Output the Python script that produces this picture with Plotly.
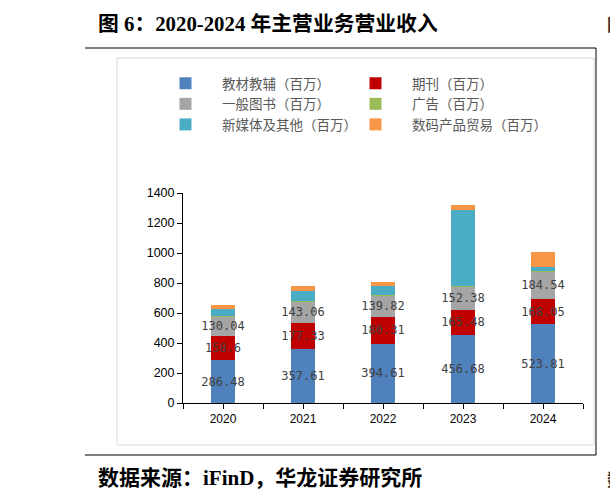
import plotly.graph_objects as go

years = ["2020", "2021", "2022", "2023", "2024"]
series_names = ["教材教辅（百万）", "期刊（百万）", "一般图书（百万）", "广告（百万）",
                "新媒体及其他（百万）", "数码产品贸易（百万）"]
teaching = [286.48, 357.61, 394.61, 456.68, 523.81]
periodicals = [158.6, 177.33, 180.31, 165.48, 168.05]
general_books = [130.04, 143.06, 139.82, 152.38, 184.54]
advertising = [5, 5, 7, 6, 2]
new_media = [44, 65, 60, 507, 25]
digital_trade = [29, 31, 22, 31, 105]
labels_teaching = ["286.48", "357.61", "394.61", "456.68", "523.81"]
labels_periodicals = ["158.6", "177.33", "180.31", "165.48", "168.05"]
labels_general = ["130.04", "143.06", "139.82", "152.38", "184.54"]
y_ticks = [0, 200, 400, 600, 800, 1000, 1200, 1400]

colors = ["#4F81BD", "#C00000", "#A5A5A5", "#9BBB59", "#4BACC6", "#F79646"]
values = [teaching, periodicals, general_books, advertising, new_media, digital_trade]
texts = [labels_teaching, labels_periodicals, labels_general, None, None, None]
legend_ids = ["legend", "legend2", "legend", "legend2", "legend", "legend2"]

# pixel -> paper helpers (plot area: x 183..583, y 193..403)
L, R, T, B = 183, 583, 193, 403
def px(x):
    return (x - L) / (R - L)
def py(y):
    return (B - y) / (B - T)

xs = list(range(len(years)))
fig = go.Figure()
for name, vals, col, txt, lg in zip(series_names, values, colors, texts, legend_ids):
    fig.add_trace(go.Bar(
        x=xs, y=vals, name=name, width=0.3, legend=lg,
        marker=dict(color=col, line=dict(width=0)),
        text=txt, textposition="inside" if txt else "none",
        insidetextanchor="middle", textangle=0, constraintext="none",
        textfont=dict(family="DejaVu Sans Mono", size=12, color="#404040"),
        cliponaxis=False,
    ))

legend_common = dict(
    orientation="v", traceorder="normal", xanchor="left", yanchor="top",
    itemwidth=63,
    font=dict(family="Noto Sans CJK SC", size=13.5, color="#595959"),
    bgcolor="rgba(0,0,0,0)",
)

fig.update_layout(
    width=610, height=504,
    margin=dict(l=L, r=610 - R, t=T, b=504 - B, pad=0),
    barmode="stack",
    paper_bgcolor="white", plot_bgcolor="white",
    showlegend=True,
    legend=dict(x=px(149), y=py(68), **legend_common),
    legend2=dict(x=px(339), y=py(68), **legend_common),
    xaxis=dict(
        range=[-0.5, 4.5], tickvals=xs, ticktext=years,
        showline=True, linecolor="black", linewidth=1,
        ticks="outside", ticklen=5, tickcolor="black",
        showgrid=False, zeroline=False,
        tickfont=dict(family="Liberation Sans", size=12, color="#000000"),
        minor=dict(tick0=-0.5, dtick=1, ticks="outside", ticklen=5, tickcolor="black", showgrid=False),
    ),
    yaxis=dict(
        range=[0, 1400], tickvals=y_ticks,
        showline=True, linecolor="black", linewidth=1,
        ticks="outside", ticklen=5, tickcolor="black",
        showgrid=False, zeroline=False,
        tickfont=dict(family="Liberation Sans", size=12.5, color="#000000"),
    ),
    font=dict(family="Liberation Sans"),
)

shapes = [
    # chart panel box
    dict(type="rect", xref="paper", yref="paper", x0=px(117), x1=px(594), y0=py(445), y1=py(58),
         line=dict(color="#D9D9D9", width=1), fillcolor="rgba(0,0,0,0)", layer="below"),
    # top rule
    dict(type="line", xref="paper", yref="paper", x0=px(85), x1=px(596), y0=py(48), y1=py(48),
         line=dict(color="black", width=1)),
    # bottom rule
    dict(type="line", xref="paper", yref="paper", x0=px(85), x1=px(596), y0=py(455), y1=py(455),
         line=dict(color="black", width=1)),
    # right vertical rule
    dict(type="line", xref="paper", yref="paper", x0=px(596), x1=px(596), y0=py(48), y1=py(455),
         line=dict(color="black", width=1)),
]
fig.update_layout(shapes=shapes)

fig.add_annotation(xref="paper", yref="paper", x=px(96), y=py(23), xanchor="left", yanchor="middle",
                   text="<b>图 6：2020-2024 年主营业务营业收入</b>", showarrow=False,
                   font=dict(family="Liberation Serif, Noto Sans CJK SC", size=20.8, color="black"))
fig.add_annotation(xref="paper", yref="paper", x=px(96), y=py(478), xanchor="left", yanchor="middle",
                   text="<b>数据来源：iFinD，华龙证券研究所</b>", showarrow=False,
                   font=dict(family="Liberation Serif, Noto Sans CJK SC", size=21, color="black"))
fig.add_annotation(xref="paper", yref="paper", x=px(605), y=py(23), xanchor="left", yanchor="middle",
                   text="<b>图</b>", showarrow=False,
                   font=dict(family="Noto Sans CJK SC", size=17, color="#333333"))
fig.add_annotation(xref="paper", yref="paper", x=px(605), y=py(478), xanchor="left", yanchor="middle",
                   text="<b>数</b>", showarrow=False,
                   font=dict(family="Noto Sans CJK SC", size=17, color="#333333"))

fig.write_html("out.html")
